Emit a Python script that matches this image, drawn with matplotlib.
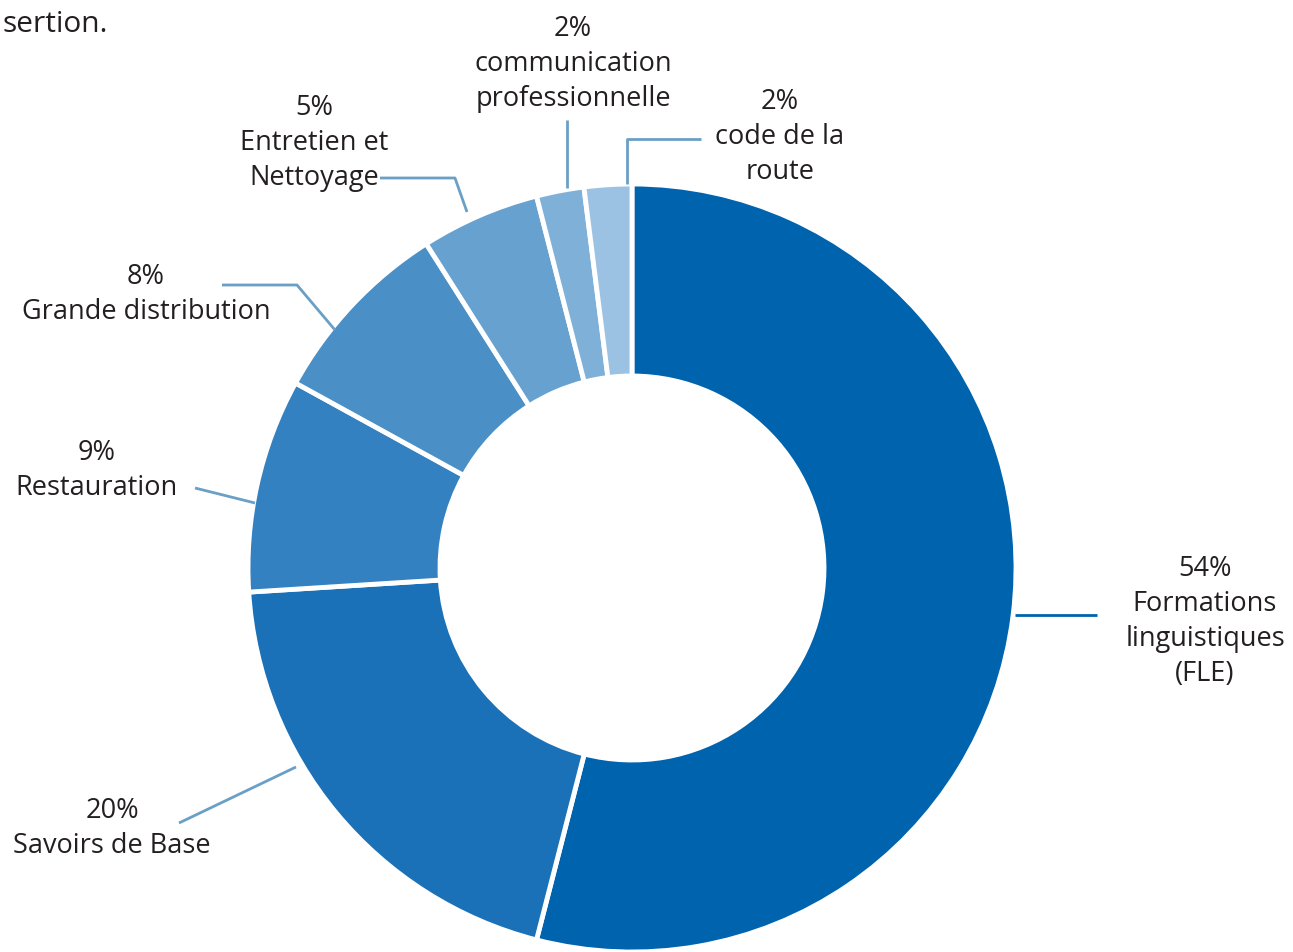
import matplotlib.pyplot as plt

# Données
categories = ['Formations\nlinguistiques\n(FLE)', 'Savoirs de Base', 'Restauration',
              'Grande distribution', 'Entretien et\nNettoyage',
              'communication\nprofessionnelle', 'code de la\nroute']
valeurs = [54, 20, 9, 8, 5, 2, 2]
couleurs = ['#0063AE', '#1B71B7', '#3381C0', '#4A90C6', '#67A1CF', '#7FB0D8', '#9CC2E3']

# Position des étiquettes (pixels) et lignes de rappel
pos_labels = [(1205, 569), (112, 811), (97, 453), (146, 277), (314, 108), (573, 29), (780, 102)]
rappels = [
    [(1015, 615), (1097, 615)],
    [(179, 823), (296, 767)],
    [(195, 488), (255, 503)],
    [(222, 285), (297, 285), (335, 330)],
    [(380, 178), (455, 178), (467, 212)],
    [(567, 120), (567, 188)],
    [(701, 139), (627, 139), (627, 184)],
]

W, H = 1293, 952
plt.rcParams['font.family'] = ['Open Sans', 'DejaVu Sans']

fig = plt.figure(figsize=(W / 100, H / 100), dpi=100)
ax = fig.add_axes([0, 0, 1, 1])
ax.set_xlim(0, W)
ax.set_ylim(0, H)
ax.axis('off')

# Donut
ax.pie(valeurs, colors=couleurs, startangle=90, counterclock=False,
       center=(632, H - 568), radius=384,
       wedgeprops=dict(width=192, edgecolor='white', linewidth=3.5))
ax.set_xlim(0, W)
ax.set_ylim(0, H)
ax.set_aspect('equal')

texte = '#231F20'
for i, (cat, val) in enumerate(zip(categories, valeurs)):
    x, y = pos_labels[i]
    lignes = [f'{val}%'] + cat.split('\n')
    for k, l in enumerate(lignes):
        ax.text(x, H - (y + 35 * k), l, ha='center', va='center',
                fontsize=19.5, color=texte)
    pts = rappels[i]
    c = '#0063AE' if i == 0 else '#6A9FC6'
    ax.plot([p[0] for p in pts], [H - p[1] for p in pts], color=c, lw=2, solid_capstyle='butt')

ax.text(3, H - 25, 'sertion.', ha='left', va='center', fontsize=21.5, color=texte)

fig.savefig('out.png', dpi=100)
